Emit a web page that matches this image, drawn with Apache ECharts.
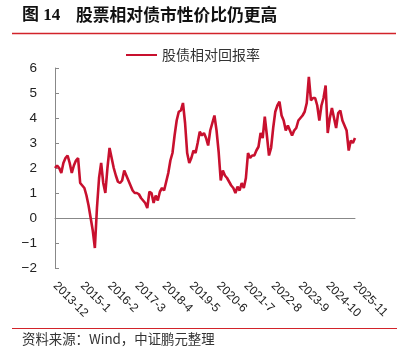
<!DOCTYPE html>
<html>
<head>
<meta charset="utf-8">
<script src="https://cdn.jsdelivr.net/npm/echarts@6/dist/echarts.min.js"></script>
<style>
html,body{margin:0;padding:0;background:#fff;}
#c{width:409px;height:354px;}
</style>
</head>
<body>
<div id="c"></div>
<script>
// Monthly categories 2013-12 .. 2025-11
var startYear = 2013, startMonth = 12, monthCount = 144;
var categories = [];
(function(){
  var y = startYear, m = startMonth;
  for (var k = 0; k < monthCount; k++) {
    categories.push(y + '-' + m);
    m++; if (m > 12) { m = 1; y++; }
  }
})();

var seriesName = '股债相对回报率';
var relativeReturn = [
  2.0, 2.1, 2.0, 1.8, 2.2, 2.4, 2.5, 2.2, 1.8, 2.1, 2.3, 2.4,
  1.4, 1.3, 1.2, 0.9, 0.5, 0.0, -0.5, -1.2, 0.4, 1.6, 2.2, 1.4,
  1.0, 2.0, 2.8, 2.4, 2.0, 1.7, 1.45, 1.4, 1.5, 1.9, 1.7, 1.5,
  1.3, 1.1, 1.0, 1.0, 0.95, 0.8, 0.7, 0.6, 0.4, 1.05, 1.0, 0.6,
  0.9, 0.7, 1.05, 1.2, 1.1, 1.45, 1.8, 2.3, 2.6, 3.3, 3.9, 4.25,
  4.3, 4.6, 3.8, 2.6, 2.2, 2.4, 2.7, 2.6, 3.0, 3.45, 3.3, 3.4,
  3.2, 2.9, 3.5, 3.8, 4.1, 3.5, 2.65, 1.5, 1.9, 1.7, 1.6, 1.45,
  1.3, 1.2, 1.0, 1.25, 1.1, 1.4, 1.2, 1.6, 2.6, 2.4, 2.5, 2.5,
  2.7, 2.85, 3.4, 3.2, 4.05, 3.3, 2.5, 2.8, 3.6, 4.25, 4.5, 4.65,
  4.1, 3.9, 3.5, 3.7, 3.5, 3.3, 3.5, 3.6, 3.9, 4.0, 4.1, 4.25,
  4.6, 5.65, 4.7, 4.8, 4.8, 4.5, 3.9, 4.5, 4.8, 5.3, 3.4, 4.0,
  4.4, 4.0, 3.6, 4.2, 4.3, 3.9, 3.7, 3.5, 2.7, 3.1, 3.0, 3.2
];
var yMin = -2, yMax = 6, yStep = 1;
var figLabel = '图 14';
var titleText = '股票相对债市性价比仍更高';
var sourceText = '资料来源：Wind，中证鹏元整理';

var chart = echarts.init(document.getElementById('c'), null, {renderer: 'canvas'});
chart.setOption({
  animation: false,
  backgroundColor: '#fff',
  graphic: [
    {type: 'text', left: 22, top: 7, style: {text: figLabel, font: 'bold 17px "Liberation Serif", "Noto Sans CJK SC"', fill: '#111'}},
    {type: 'text', left: 76, top: 6, style: {text: titleText, font: 'bold 16.8px "Noto Sans CJK SC"', fill: '#111'}},
    {type: 'line', shape: {x1: 12, y1: 33.5, x2: 396, y2: 33.5}, style: {stroke: '#d2232a', lineWidth: 1.6}},
    {type: 'line', shape: {x1: 12, y1: 328.5, x2: 397, y2: 328.5}, style: {stroke: '#d2232a', lineWidth: 1}},
    {type: 'text', left: 22, top: 332, style: {text: sourceText, font: '13.4px "Noto Sans CJK SC"', fill: '#333'}}
  ],
  legend: {
    data: [seriesName],
    top: 43, left: 121,
    itemWidth: 31, itemHeight: 2, itemGap: 5,
    icon: 'rect',
    textStyle: {fontFamily: 'Noto Sans CJK SC', fontSize: 14, color: '#333'}
  },
  grid: {left: 55, right: 54, top: 68, bottom: 86, containLabel: false},
  xAxis: {
    type: 'category',
    data: categories,
    boundaryGap: false,
    axisLine: {lineStyle: {color: '#888', width: 1}},
    axisTick: {show: false},
    axisLabel: {
      interval: 12, rotate: -45, margin: 16,
      fontFamily: 'Liberation Sans', fontSize: 12, color: '#222'
    },
    splitLine: {show: false}
  },
  yAxis: {
    type: 'value',
    min: yMin, max: yMax, interval: yStep,
    axisLine: {show: true, lineStyle: {color: '#888', width: 1}},
    axisTick: {show: true, inside: true, length: 4, lineStyle: {color: '#888'}},
    axisLabel: {
      margin: 18,
      fontFamily: 'Liberation Sans', fontSize: 13.5, color: '#222',
      formatter: function(v){ return String(v).replace('-', '\u2212'); }
    },
    splitLine: {show: false}
  },
  series: [{
    name: seriesName,
    type: 'line',
    data: relativeReturn,
    symbol: 'none',
    lineStyle: {color: '#c8102e', width: 2.6},
    itemStyle: {color: '#c8102e'}
  }]
});
</script>
</body>
</html>
